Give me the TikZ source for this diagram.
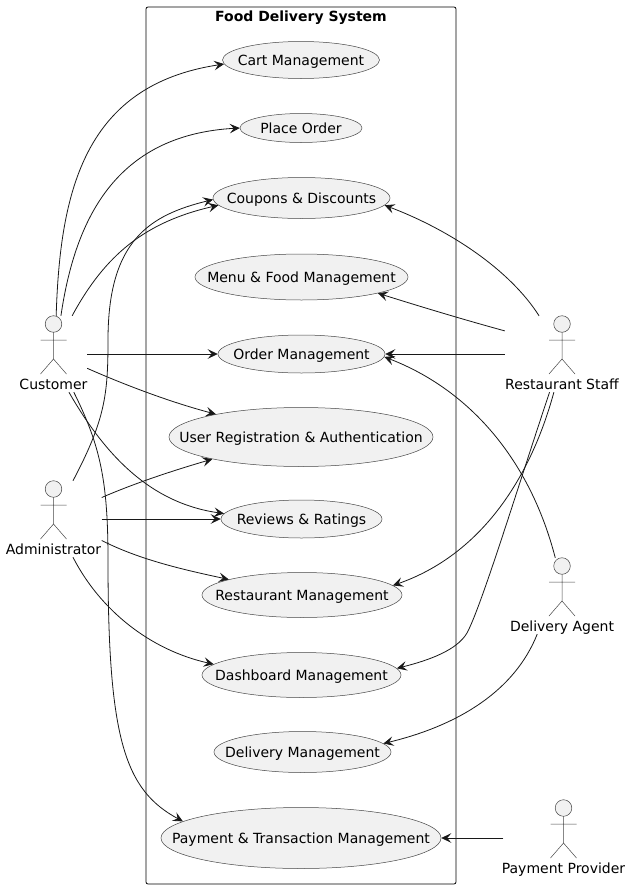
\documentclass[tikz,border=0pt]{standalone}
\usepackage{fontspec}
\setmainfont{DejaVu Sans}
\usetikzlibrary{arrows.meta,shapes.geometric}
\definecolor{ink}{HTML}{181818}
\definecolor{pale}{HTML}{F1F1F1}
\tikzset{
  usecase/.style={ellipse,draw=ink!80,line width=.5pt,fill=pale,inner sep=0pt,text=black},
  thinline/.style={draw=ink!80,line width=.5pt},
  actorlabel/.style={text height=10pt,text depth=3pt,inner sep=0pt},
  assoc/.style={ink,line width=.8pt,-{Stealth[length=10pt,width=9.5pt,inset=4pt]}},
}
\begin{document}
\begin{tikzpicture}[x=1pt,y=-1pt,font=\fontsize{14}{16}\selectfont]
\useasboundingbox (0,0) rectangle (631,889);
% System boundary
\node[draw=black,line width=.8pt,rounded corners=2pt,minimum width=310pt,minimum height=877pt,inner sep=0pt] (system) at (301,445.5) {};
\node[font=\fontsize{14}{16}\selectfont\bfseries] (systitle) at (301,17.5) {Food Delivery System};
% Use cases
\foreach \nm/\x/\y/\w/\h/\txt in {
  cart/301/60/157/37/Cart Management,
  place/301/128/122/29/Place Order,
  coupons/301.5/198/177/41/Coupons \& Discounts,
  menu/301.5/277/213/46/Menu \& Food Management,
  order/301.5/354/167/38/Order Management,
  userreg/301/437/264/59/User Registration \& Authentication,
  reviews/301.5/519/161/38/Reviews \& Ratings,
  restmgmt/302/595/200/45/Restaurant Management,
  dashboard/301.5/675/199/45/Dashboard Management,
  delivery/302.5/752/177/41/Delivery Management,
  payment/301/838/280/61/Payment \& Transaction Management} {
  \node[usecase,minimum width=\w pt,minimum height=\h pt] (\nm) at (\x,\y) {\makebox[0pt]{\raisebox{-5pt}[0pt][0pt]{\txt}}};
}
% Actors
\foreach \nm/\x/\y/\w/\txt in {
  customer/53.5/354/67/Customer,
  admin/53.5/519/96/Administrator,
  staff/562/354/114/Restaurant Staff,
  agent/562/596/102/Delivery Agent,
  provider/563.5/838/120/Payment Provider} {
  \begin{scope}[shift={(\x,\y)}]
    \node[minimum width=\w pt,minimum height=76pt,inner sep=0pt] (\nm) at (0,0) {};
    \node[actorlabel] (\nm label) at (0,31.5) {\txt};
    \draw[thinline,fill=pale] (0,-30) circle (8.3pt);
    \draw[thinline] (0,-21.7) -- (0,5) (-13,-14) -- (13,-14) (-13,20) -- (0,5) -- (13,20);
  \end{scope}
}
% Customer
\draw[assoc] (customer.86) .. controls (60,190) and (85,85) .. (cart.183);
\draw[assoc] (customer.79) .. controls (75,220) and (115,135) .. (place.west);
\draw[assoc] (customer.64) .. controls (105,255) and (145,222) .. (coupons.185);
\draw[assoc] (customer.east) -- (order.west);
\draw[assoc] (customer.-23.5) .. controls (125,385) and (170,402) .. (userreg.165.6);
\draw[assoc] (customer.-68) .. controls (105,455) and (150,503) .. (reviews.176.3);
\draw[assoc] (customer.-62) .. controls (100,445) and (108,480) .. (108,560) .. controls (108,740) and (125,790) .. (payment.172);
% Administrator
\draw[assoc] (admin.63) .. controls (105,420) and (108,395) .. (108,340) .. controls (108,240) and (150,215) .. (coupons.181);
\draw[assoc] (admin.24.6) .. controls (135,483) and (175,470) .. (userreg.194.4);
\draw[assoc] (admin.east) -- (reviews.west);
\draw[assoc] (admin.-24.6) .. controls (140,560) and (185,570) .. (restmgmt.168);
\draw[assoc] (admin.-63) .. controls (100,610) and (150,650) .. (dashboard.173.5);
% Restaurant Staff
\draw[assoc] (staff.121) .. controls (510,270) and (450,230) .. (coupons.-5.7);
\draw[assoc] (staff.158.6) .. controls (465,320) and (425,308) .. (menu.-12.8);
\draw[assoc] (staff.west) -- (order.east);
\draw[assoc] (staff.258) .. controls (530,480) and (480,555) .. (restmgmt.6.3);
\draw[assoc] (staff.252.5) .. controls (520,480) and (482,605) .. (467,633) .. controls (457,650) and (430,660) .. (dashboard.4.7);
% Delivery Agent
\draw[assoc] (agent.100) .. controls (530,460) and (470,390) .. (order.-2);
\draw[assoc] (agent.237.7) .. controls (515,690) and (460,725) .. (delivery.6.2);
% Payment Provider
\draw[assoc] (provider.west) -- (payment.east);
\end{tikzpicture}
\end{document}
